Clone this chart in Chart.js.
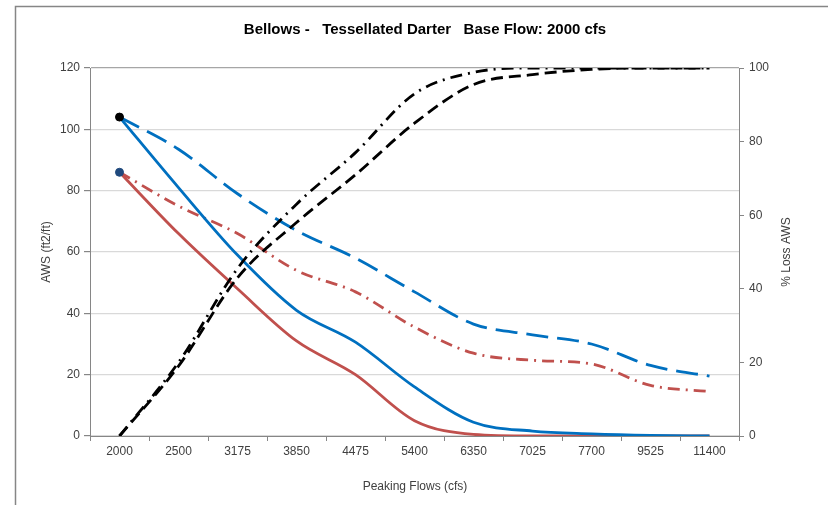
<!DOCTYPE html>
<html>
<head>
<meta charset="utf-8">
<script src="https://cdn.jsdelivr.net/npm/chart.js@4/dist/chart.umd.min.js"></script>
<style>
  body { margin: 0; background: #fff; }
  canvas { display: block; }
</style>
</head>
<body>
<canvas id="chart" width="828" height="505"></canvas>
<script>
// peaking flow categories (cfs)
const flows = ["2000", "2500", "3175", "3850", "4475", "5400", "6350", "7025", "7700", "9525", "11400"];

// AWS (ft2/ft), left axis
const awsBlueSolid = [104, 81, 59, 41, 30.6, 16, 4.5, 1.6, 0.7, 0.2, 0];
const awsRedSolid = [86, 66, 48, 31, 20, 5, 0.5, 0, 0, 0, 0];
const awsBlueDash = [104, 93.5, 79, 67, 58, 47, 36.5, 33, 30, 23, 19.5];
const awsRedDashDot = [86, 75, 66, 54, 47, 35.5, 27, 24.7, 23.5, 16.5, 14.5];

// % loss AWS, right axis
const lossDash = [0, 19, 43, 58, 71, 85, 95.5, 98.2, 99.6, 100, 100];
const lossDashDot = [0, 20, 45.5, 63, 77, 93, 98.8, 100, 100, 100, 100];

// start markers (only first point)
const markBlue = [104, null, null, null, null, null, null, null, null, null, null];
const markRed = [86, null, null, null, null, null, null, null, null, null, null];

const leftTicks = [0, 20, 40, 60, 80, 100, 120];
const rightTicks = [0, 20, 40, 60, 80, 100];

const FONT = "'Liberation Sans', Arial, sans-serif";
const AXIS_GREY = "#868686";
const TEXT = "#404040";

const decor = {
  id: "decor",
  beforeDraw(chart) {
    const ctx = chart.ctx;
    ctx.save();
    ctx.fillStyle = "#fff";
    ctx.fillRect(0, 0, chart.width, chart.height);
    ctx.strokeStyle = AXIS_GREY;
    ctx.lineWidth = 1.5;
    ctx.strokeRect(15.5, 6.5, 900, 600);
    ctx.restore();
  },
  afterDraw(chart) {
    const ctx = chart.ctx;
    const area = chart.chartArea;
    const midY = (area.top + area.bottom) / 2;
    ctx.save();
    ctx.fillStyle = "#000";
    ctx.textAlign = "center";
    ctx.textBaseline = "middle";
    ctx.font = "bold 15px " + FONT;
    ctx.fillText("Bellows -   Tessellated Darter   Base Flow: 2000 cfs", 425, 30);

    ctx.fillStyle = TEXT;
    ctx.font = "12px " + FONT;
    ctx.fillText("Peaking Flows (cfs)", 415, 487);

    ctx.translate(47, midY);
    ctx.rotate(-Math.PI / 2);
    ctx.fillText("AWS (ft2/ft)", 0, 0);
    ctx.restore();

    ctx.save();
    ctx.fillStyle = TEXT;
    ctx.font = "12px " + FONT;
    ctx.textAlign = "center";
    ctx.textBaseline = "middle";
    ctx.translate(787, midY);
    ctx.rotate(-Math.PI / 2);
    ctx.fillText("% Loss AWS", 0, 0);
    ctx.restore();
  }
};

const line = (data, color, dash, axis) => ({
  data: data,
  yAxisID: axis,
  borderColor: color,
  backgroundColor: color,
  borderWidth: 2.8,
  borderDash: dash,
  pointRadius: 0,
  fill: false,
  cubicInterpolationMode: "monotone"
});

const mark = (data, color) => ({
  data: data,
  yAxisID: "y",
  showLine: false,
  pointRadius: 4,
  pointBackgroundColor: color,
  pointBorderColor: color,
  borderColor: color
});

new Chart(document.getElementById("chart"), {
  type: "line",
  data: {
    labels: flows,
    datasets: [
      mark(markBlue, "#000"),
      mark(markRed, "#1F497D"),
      line(lossDashDot, "#000", [12, 6, 2, 6], "y2"),
      line(lossDash, "#000", [12, 6], "y2"),
      line(awsBlueSolid, "#0070C0", [], "y"),
      line(awsRedSolid, "#C0504D", [], "y"),
      line(awsBlueDash, "#0070C0", [22, 9], "y"),
      line(awsRedDashDot, "#C0504D", [12, 6, 2, 6], "y")
    ]
  },
  options: {
    responsive: false,
    animation: false,
    layout: { padding: { top: 68, left: 0, right: 0, bottom: 0 } },
    plugins: {
      legend: { display: false },
      title: { display: false },
      tooltip: { enabled: false }
    },
    scales: {
      x: {
        offset: true,
        afterFit: (s) => { s.height = 69; },
        grid: {
          offset: true,
          drawOnChartArea: false,
          tickLength: 5,
          tickColor: AXIS_GREY
        },
        border: { color: AXIS_GREY, width: 1 },
        ticks: {
          color: TEXT,
          padding: 3,
          maxRotation: 0,
          autoSkip: false,
          font: { family: FONT, size: 12 }
        }
      },
      y: {
        position: "left",
        min: 0,
        max: 120,
        afterFit: (s) => { s.width = 90; },
        afterBuildTicks: (s) => { s.ticks = leftTicks.map((v) => ({ value: v })); },
        grid: {
          color: (c) => (c.tick && c.tick.value === 120 ? "#a6a6a6" : "#d9d9d9"),
          lineWidth: 1.2,
          tickLength: 6,
          tickColor: AXIS_GREY
        },
        border: { color: AXIS_GREY, width: 1 },
        ticks: {
          color: TEXT,
          padding: 4,
          font: { family: FONT, size: 12 }
        }
      },
      y2: {
        position: "right",
        min: 0,
        max: 100,
        afterFit: (s) => { s.width = 89; },
        afterBuildTicks: (s) => { s.ticks = rightTicks.map((v) => ({ value: v })); },
        grid: {
          drawOnChartArea: false,
          tickLength: 5,
          tickColor: AXIS_GREY
        },
        border: { color: AXIS_GREY, width: 1 },
        ticks: {
          color: TEXT,
          padding: 5,
          font: { family: FONT, size: 12 }
        }
      }
    }
  },
  plugins: [decor]
});
</script>
</body>
</html>
